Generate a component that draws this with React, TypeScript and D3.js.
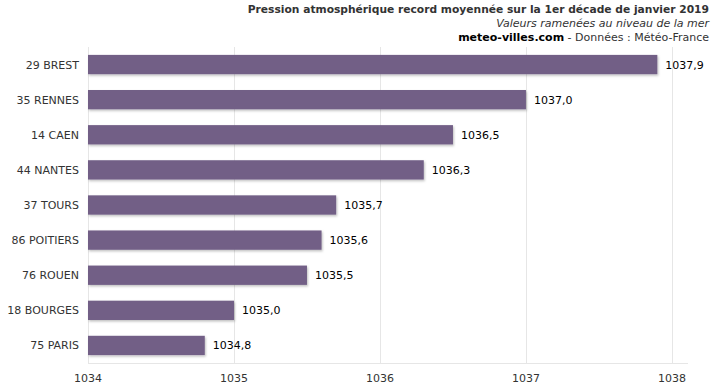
import React from 'react';
import * as d3 from 'd3';

const cities = ['29 BREST', '35 RENNES', '14 CAEN', '44 NANTES', '37 TOURS', '86 POITIERS', '76 ROUEN', '18 BOURGES', '75 PARIS'];
const pressures = [1037.9, 1037.0, 1036.5, 1036.3, 1035.7, 1035.6, 1035.5, 1035.0, 1034.8];
const xTicks = [1034, 1035, 1036, 1037, 1038];

const title = 'Pression atmosphérique record moyennée sur la 1er décade de janvier 2019';
const subtitle = 'Valeurs ramenées au niveau de la mer';

const W = 715;
const H = 386;
const left = 88;
const right = 688;
const top = 47;
const bottom = 363;
const font = 'Verdana, "DejaVu Sans", sans-serif';

const App = () => {
  const x = d3.scaleLinear().domain([1034, 1038.11]).range([left, right]);
  const y = d3.scaleBand().domain(cities).range([top, bottom]).paddingInner(0.45).paddingOuter(0.225);
  const fmt = (v: number) => v.toFixed(1).replace('.', ',');

  return (
    <svg width={W} height={H} style={{ position: 'absolute', left: 0, top: 0 }}>
      <defs>
        <filter id="shadow" x="-5%" y="-30%" width="110%" height="180%">
          <feDropShadow dx="1" dy="1.5" stdDeviation="1.2" floodColor="#000" floodOpacity="0.25" />
        </filter>
      </defs>
      <rect width={W} height={H} fill="#fff" />

      {xTicks.map((t) => (
        <line key={t} x1={Math.round(x(t)) + 0.5} x2={Math.round(x(t)) + 0.5} y1={top} y2={bottom} stroke="#e6e6e6" />
      ))}
      <line x1={left} x2={right} y1={bottom + 0.5} y2={bottom + 0.5} stroke="#e6e6e6" />

      {cities.map((c, i) => (
        <g key={c}>
          <rect
            x={left}
            y={y(c)}
            width={x(pressures[i]) - left}
            height={y.bandwidth()}
            fill="#725f86"
            filter="url(#shadow)"
          />
          <text x={x(pressures[i]) + 8} y={(y(c) as number) + y.bandwidth() / 2 + 4} fontSize={11} fontFamily={font} fill="#000">
            {fmt(pressures[i])}
          </text>
          <text x={left - 9} y={(y(c) as number) + y.bandwidth() / 2 + 4} fontSize={11} fontFamily={font} fill="#333" textAnchor="end">
            {c}
          </text>
        </g>
      ))}

      {xTicks.map((t) => (
        <text key={t} x={x(t)} y={382} fontSize={11} fontFamily={font} fill="#333" textAnchor="middle">
          {t}
        </text>
      ))}

      <text x={709} y={13} textAnchor="end" fontSize={10.7} fontWeight="bold" fontFamily={font} fill="#333">
        {title}
      </text>
      <text x={709} y={27} textAnchor="end" fontSize={11} fontStyle="italic" fontFamily={font} fill="#333">
        {subtitle}
      </text>
      <text x={709} y={41} textAnchor="end" fontSize={11} fontFamily={font} fill="#333">
        <tspan fontWeight="bold" fill="#000">meteo-villes.com</tspan>
        <tspan> - Données : Météo-France</tspan>
      </text>
    </svg>
  );
};

export default App;
